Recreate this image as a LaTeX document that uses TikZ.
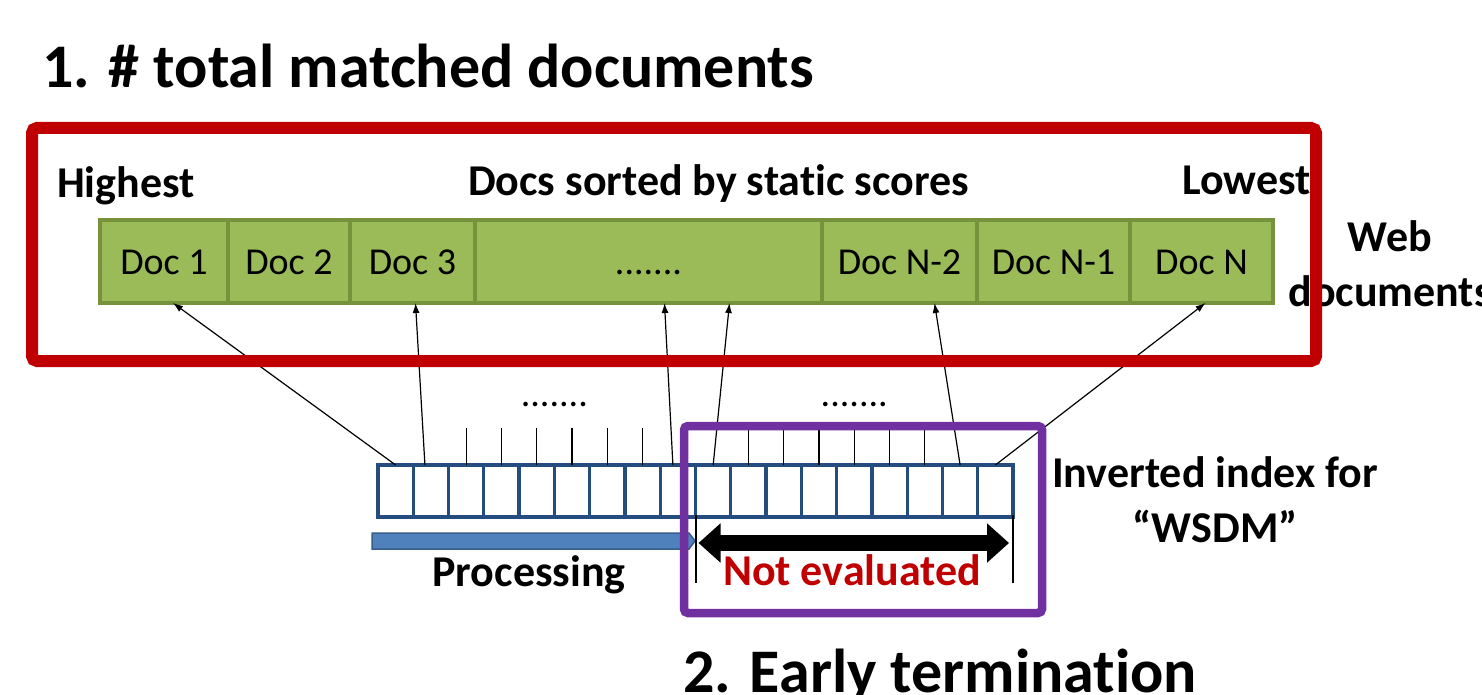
\documentclass[tikz,border=0pt]{standalone}
\usepackage{xcolor}
\usepackage{fontspec}
\setmainfont{Carlito}[RawFeature={-liga}]
\usepackage{tikz}
\usetikzlibrary{arrows.meta, positioning, calc}
\definecolor{boxred}{RGB}{192, 0, 0}
\definecolor{boxpurple}{RGB}{112, 48, 160}
\definecolor{docgreen}{RGB}{155, 187, 89}
\definecolor{docedge}{RGB}{118, 146, 60}
\definecolor{idxblue}{RGB}{36, 76, 126}
\definecolor{procblue}{RGB}{79, 129, 189}
\definecolor{procedge}{RGB}{56, 93, 138}
\tikzstyle{doccell} = [
    rectangle,
    draw=docedge,
    fill=docgreen,
    line width=3.5pt,
    minimum height=83pt,
    inner sep=0pt,
    outer sep=0pt,
    text height=25pt,
    text depth=0pt,
    font=\fontsize{38}{40}\selectfont
]
\tikzstyle{idxcell} = [
    rectangle,
    draw=idxblue,
    fill=white,
    line width=3.3pt,
    minimum width=35.28pt,
    minimum height=52pt,
    inner sep=0pt,
    outer sep=0pt
]
\tikzstyle{caption} = [
    inner sep=0pt,
    font=\bfseries\fontsize{44}{55}\selectfont
]
\tikzstyle{headline} = [
    inner sep=0pt,
    anchor=base west,
    font=\bfseries\fontsize{62}{70}\selectfont
]
\tikzstyle{pointer} = [
    line width=1.2pt,
    -{Latex[length=10pt, width=7pt]}
]
\tikzstyle{tick} = [line width=1.2pt]

\begin{document}
\begin{tikzpicture}[x=1pt, y=-1pt]
    \useasboundingbox (0,0) rectangle (1482,695);

    % documents sorted by static score
    \node[doccell, anchor=west, minimum width=128pt] (d1) at (100,261.5) {Doc 1};
    \node[doccell, minimum width=122pt, right=0pt of d1] (d2) {Doc 2};
    \node[doccell, minimum width=125pt, right=0pt of d2] (d3) {Doc 3};
    \node[doccell, minimum width=347pt, right=0pt of d3] (dmid) {.......};
    \node[doccell, minimum width=155pt, right=0pt of dmid] (d5) {Doc N-2};
    \node[doccell, minimum width=153pt, right=0pt of d5] (d6) {Doc N-1};
    \node[doccell, minimum width=143pt, right=0pt of d6] (d7) {Doc N};

    % posting list
    \foreach \i in {1,...,18}
        \node[idxcell] (c\i) at ({378+(\i-0.5)*35.28},491) {};

    \draw[pointer] (c1.north) -- ([xshift=9pt]d1.south);
    \draw[pointer] ([xshift=-6pt]c2.north) -- ([xshift=3pt]d3.south);
    \draw[pointer] ([xshift=-5pt]c9.north) -- ([xshift=16pt]dmid.south);
    \draw[pointer] (c10.north) -- ([xshift=81pt]dmid.south);
    \draw[pointer] (c17.north) -- ([xshift=35pt]d5.south);
    \draw[pointer] (c18.north) -- ([xshift=4pt]d7.south);
    \foreach \i in {3,4,5,6,7,8,11,12,13,14,15,16}
        \draw[tick] (c\i.north) -- ++(0,-37);

    \node[font=\fontsize{38}{40}\selectfont] (dotsl) at ($(c5.north)!0.5!(c6.north)+(0,-61)$) {.......};
    \node[font=\fontsize{38}{40}\selectfont] (dotsr) at ($(c14.north)+(0,-61)$) {.......};

    % processed part and skipped part
    \filldraw[fill=procblue, draw=procedge, line width=1.5pt]
        (372,533) -- (689,533) -- (695,541) -- (689,549) -- (372,549) -- cycle;
    \draw[line width=2pt] ([yshift=2pt]c10.south west) -- ++(0,68);
    \draw[line width=2pt] ([yshift=2pt]c18.south east) -- ++(0,68);
    \coordinate (nl) at ([yshift=-26pt]c10.south west);
    \coordinate (nr) at ([yshift=-26pt]c18.south east);
    \draw[line width=16pt, {Triangle[length=22pt, width=38pt]}-{Triangle[length=22pt, width=38pt]}, shorten <=3pt, shorten >=4pt] (nl) -- (nr);

    % texts
    \node[headline] (head1) at (42,88) {1. \# total matched documents};
    \node[headline] (head2) at (683,692) {2. Early termination};
    \node[caption, anchor=base west] (high) at (57,197) {Highest};
    \node[caption, anchor=base west] (sorted) at (468,196) {Docs sorted by static scores};
    \node[caption, anchor=base west] (low) at (1182,195) {Lowest};
    \node[caption, align=center] (web) at (1390,264) {Web\\documents};
    \node[caption, align=center] (inv) at (1215,500) {Inverted index for\\“WSDM”};
    \node[caption, anchor=base] (proc) at (529,586) {Processing};
    \node[caption, anchor=base, text=boxred] (noteval) at (852,585) {Not evaluated};

    % frames
    \draw[boxred, line width=12pt, rounded corners=5pt] (32,128) rectangle (1316,361);
    \draw[boxpurple, line width=8.5pt, rounded corners=4pt] (684,426) rectangle (1042,613);
\end{tikzpicture}
\end{document}
